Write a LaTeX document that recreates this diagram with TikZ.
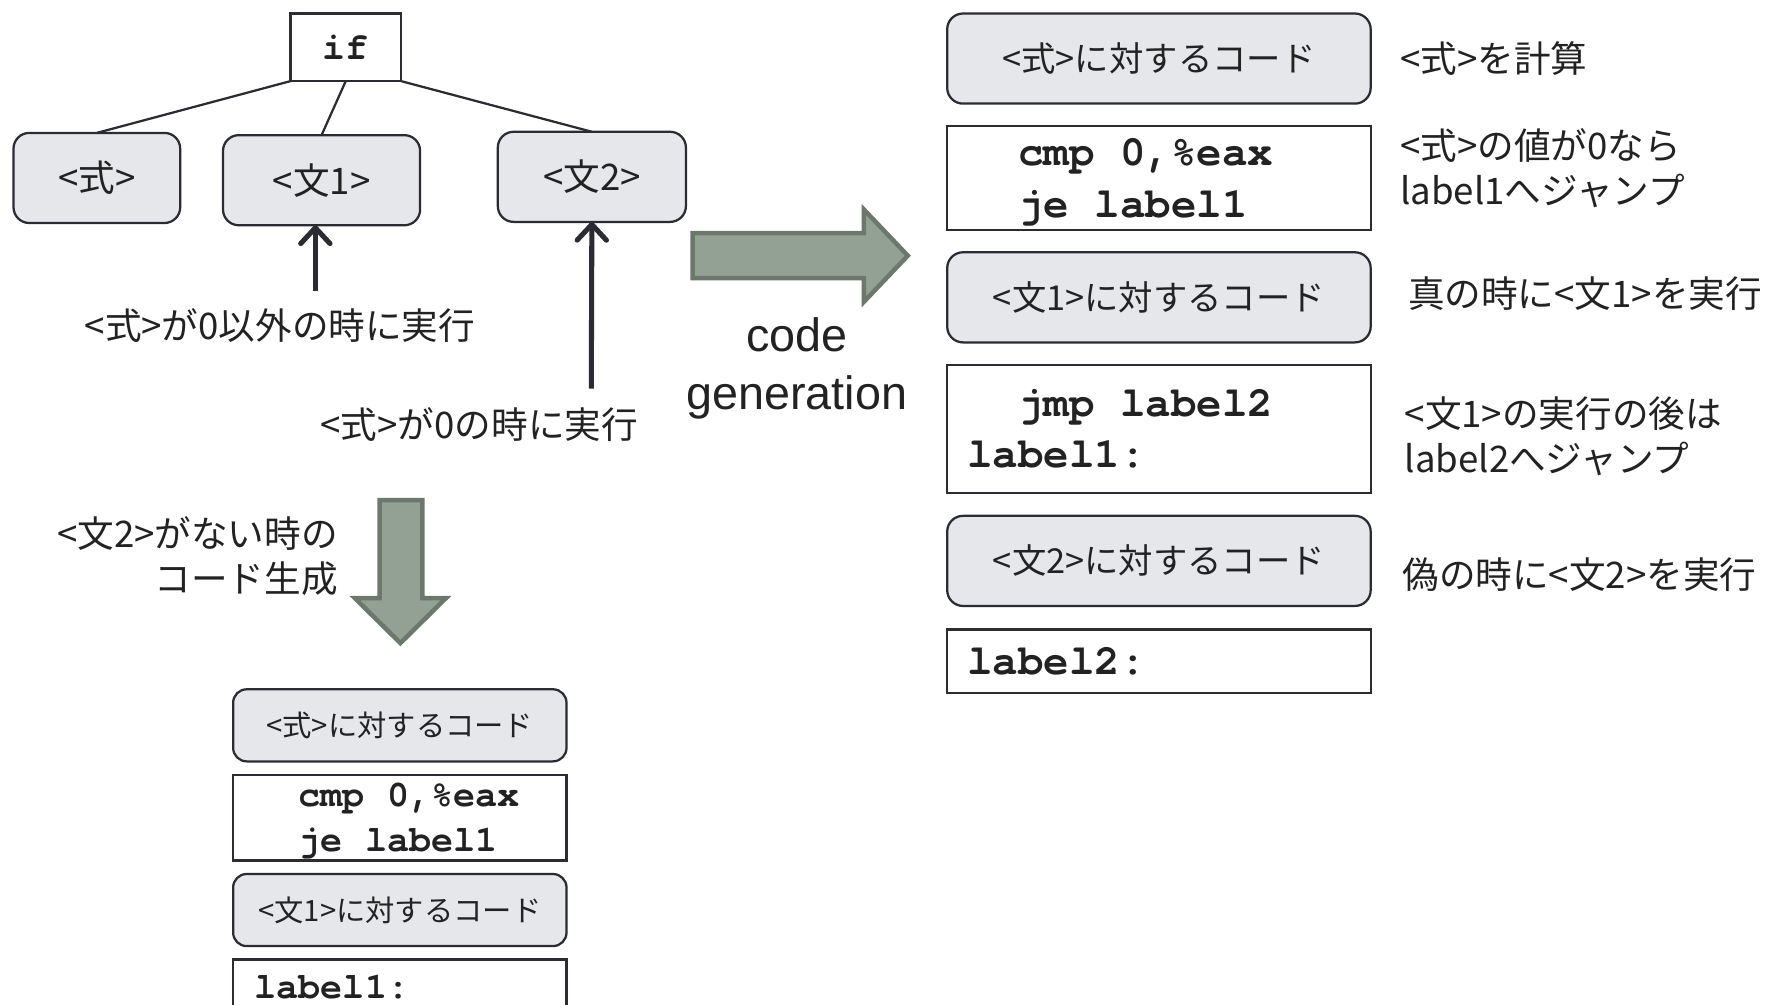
\documentclass[tikz,border=0pt]{standalone}
\usepackage{fontspec}
\setmainfont{Liberation Sans}
\setmonofont{TeX Gyre Cursor}
\newfontfamily\jfont{Noto Sans CJK JP}
\usetikzlibrary{positioning, arrows.meta}

\definecolor{boxfill}{HTML}{E6E7EB}
\definecolor{boxline}{HTML}{2B2B33}
\definecolor{inkclr}{HTML}{222222}
\definecolor{arrowfill}{HTML}{93A194}
\definecolor{arrowline}{HTML}{6D786D}

% one fixed-width blank in code lines
\newcommand\tsp{\hphantom{x}}

\tikzset{
  treebox/.style={draw=boxline, fill=boxfill, line width=2pt, rounded corners=14pt, outer sep=0pt,
    minimum height=80pt, text=inkclr, font=\jfont\fontsize{32.5}{38}\selectfont},
  codebox/.style={draw=boxline, fill=boxfill, line width=2pt, rounded corners=14pt, outer sep=0pt,
    minimum width=376pt, minimum height=80pt, text=inkclr, font=\jfont\fontsize{30.5}{37}\selectfont},
  asmbox/.style={draw=boxline, fill=white, line width=2pt, outer sep=0pt, inner xsep=18pt, inner ysep=0pt,
    text width=340pt, align=left, text=inkclr, font=\ttfamily\bfseries\fontsize{37.7}{45.5}\selectfont},
  smallcode/.style={codebox, rounded corners=12pt, minimum width=296pt, minimum height=64pt,
    font=\jfont\fontsize{26}{32}\selectfont},
  smallasm/.style={asmbox, inner xsep=19pt, text width=258pt,
    font=\ttfamily\bfseries\fontsize{32.7}{40}\selectfont},
  note/.style={inner sep=0pt, align=left, text=inkclr, font=\jfont\fontsize{32.5}{40}\selectfont},
  treeline/.style={draw=boxline, line width=2pt},
  uparrow/.style={draw=boxline, line width=4.5pt, -{Straight Barb[round, length=14pt, width=26pt, line width=4.5pt]}},
  bigarrow/.style={fill=arrowfill, draw=arrowline, line width=4pt, line join=miter}
}

\begin{document}
\begin{tikzpicture}[x=1pt, y=-1pt]
\useasboundingbox (0,0) rectangle (1568,892);
\clip (0,0) rectangle (1568,892);

% syntax tree
\node[draw=boxline, line width=2pt, outer sep=0pt, minimum width=98pt, minimum height=60pt,
  text=inkclr, font=\ttfamily\bfseries\fontsize{34}{40}\selectfont] (if) at (307,42) {if};
\node[treebox, minimum width=148pt] (shiki) at (86,158) {<式>};
\node[treebox, minimum width=175pt] (bun1) at (285.5,160) {<文1>};
\node[treebox, minimum width=167pt] (bun2) at (525.5,157) {<文2>};

\draw[treeline] (if.south west) -- (shiki.north);
\draw[treeline] (if.south) -- (bun1.north);
\draw[treeline] (if.south east) -- (bun2.north);

\coordinate (c1) at (280,258);
\coordinate (c2) at (525,345);
\draw[uparrow] (c1) -- (c1 |- bun1.south);
\draw[uparrow] (c2) -- (bun2.south);

\node[note] (n1) at (248.5,289) {<式>が0以外の時に実行};
\node[note] (n2) at (425.5,377) {<式>が0の時に実行};

% code generation arrow
\draw[bigarrow] (615,207) -- (767,207) -- (767,186) -- (806,227) -- (767,268) -- (767,247) -- (615,247) -- cycle;
\node[align=center, inner sep=0pt, text=inkclr, font=\fontsize{41.5}{51}\selectfont] (gen) at (707.5,327) {code\\generation};

% generated code
\node[codebox] (eA) at (1029,52) {<式>に対するコード};
\node[asmbox, minimum height=92pt, below=20pt of eA] (eB) {\tsp\tsp cmp\tsp 0,\%eax\\\smash{\tsp\tsp je\tsp label1}};
\node[codebox, below=20pt of eB] (eC) {<文1>に対するコード};
\node[asmbox, minimum height=114pt, below=20pt of eC] (eD) {\tsp\tsp jmp\tsp label2\\label1:};
\node[codebox, below=20pt of eD] (eE) {<文2>に対するコード};
\node[asmbox, minimum height=56pt, below=21pt of eE] (eF) {label2:};

\node[note, anchor=west] (d1) at (1243,52) {<式>を計算};
\node[note, anchor=west] (d2) at (1243,149) {<式>の値が0なら\\label1へジャンプ};
\node[note, anchor=west] (d3) at (1250,261) {真の時に<文1>を実行};
\node[note, anchor=west] (d4) at (1247,387) {<文1>の実行の後は\\label2へジャンプ};
\node[note, anchor=west] (d5) at (1245,510) {偽の時に<文2>を実行};

% without else
\draw[bigarrow] (337,444) -- (375,444) -- (375,531) -- (396,531) -- (355.5,571) -- (315,531) -- (337,531) -- cycle;
\node[note, align=right, anchor=east] (n3) at (300,494) {<文2>がない時の\\コード生成};

\node[smallcode] (sA) at (355,644) {<式>に対するコード};
\node[smallasm, minimum height=76pt, below=12pt of sA] (sB) {\tsp\tsp cmp\tsp 0,\%eax\\\smash{\tsp\tsp je\tsp label1}};
\node[smallcode, below=12pt of sB] (sC) {<文1>に対するコード};
\node[smallasm, minimum height=48pt, below=12pt of sC] (sD) {label1:};
\end{tikzpicture}
\end{document}
